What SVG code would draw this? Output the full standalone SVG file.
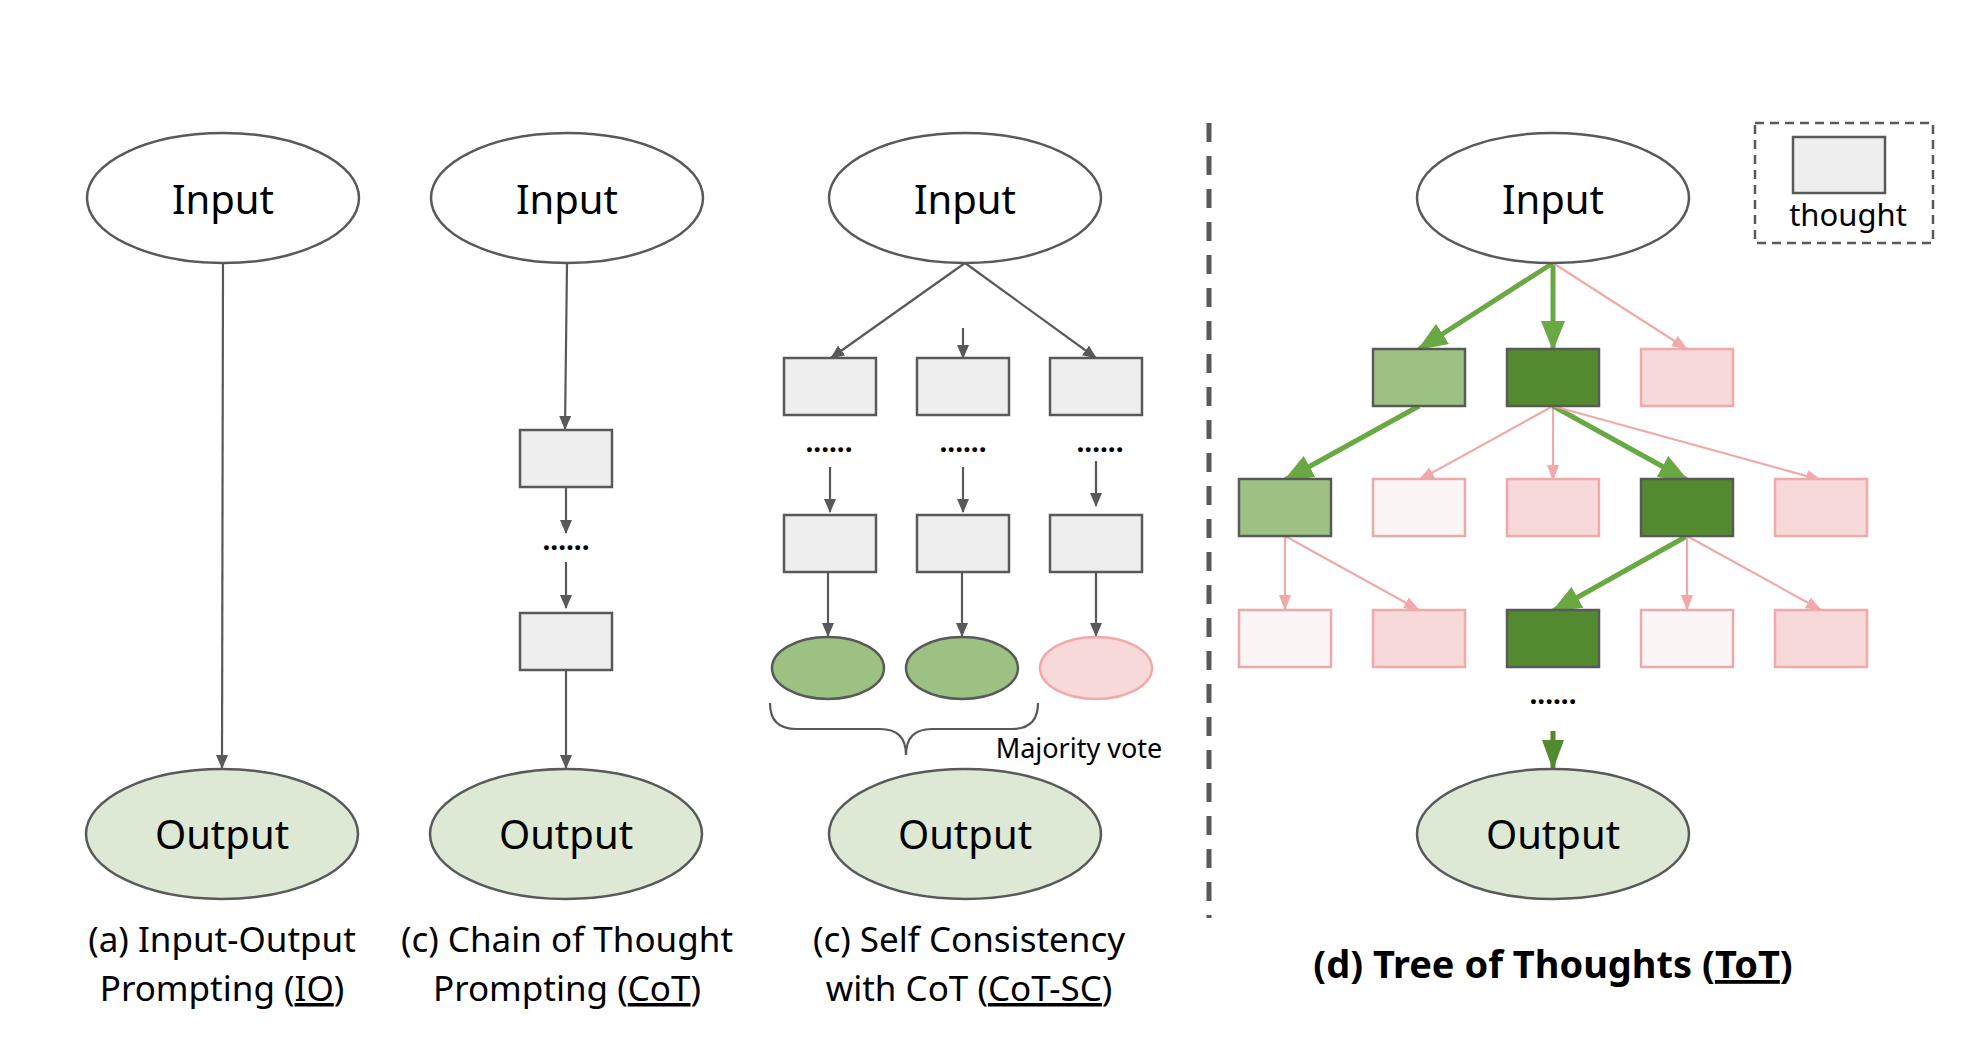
<svg xmlns="http://www.w3.org/2000/svg" width="1980" height="1052" viewBox="0 0 1980 1052">
<style>
text{font-family:"Noto Sans","Open Sans",sans-serif;fill:#000}
.ell{fill:#fff;stroke:#595959;stroke-width:2.5}
.out{fill:#dde8d5;stroke:#595959;stroke-width:2.5}
.box{fill:#eeeeee;stroke:#595959;stroke-width:2.5}
.lg{fill:#9dc183;stroke:#595959;stroke-width:2.5}
.dg{fill:#548a2f;stroke:#595959;stroke-width:2.5}
.pk{fill:#f8d9da;stroke:#f2a9a9;stroke-width:2.5}
.vp{fill:#fbf5f5;stroke:#eca9a9;stroke-width:2.5}
.gl{stroke:#595959;stroke-width:2.2;fill:none;marker-end:url(#ag)}
.gr{stroke:#6aa843;stroke-width:5;fill:none;marker-end:url(#agr)}
.pl{stroke:#f2a9a9;stroke-width:2.2;fill:none;marker-end:url(#apk)}
.nl{font-size:40px;text-anchor:middle}
.cap{font-size:35px;text-anchor:middle}
.dots{font-size:28px;text-anchor:middle;font-weight:bold}
</style>
<defs>
<marker id="ag" viewBox="0 0 14 12" refX="13" refY="6" markerWidth="14" markerHeight="12" markerUnits="userSpaceOnUse" orient="auto"><path d="M0,0 L14,6 L0,12 z" fill="#595959"/></marker>
<marker id="agr" viewBox="0 0 30 24" refX="28" refY="12" markerWidth="30" markerHeight="24" markerUnits="userSpaceOnUse" orient="auto"><path d="M0,0 L30,12 L0,24 z" fill="#6aa843"/></marker>
<marker id="apk" viewBox="0 0 16 12" refX="15" refY="6" markerWidth="16" markerHeight="12" markerUnits="userSpaceOnUse" orient="auto"><path d="M0,0 L16,6 L0,12 z" fill="#f2a9a9"/></marker>
<marker id="adg" viewBox="0 0 30 22" refX="29" refY="11" markerWidth="30" markerHeight="22" markerUnits="userSpaceOnUse" orient="auto"><path d="M0,0 L30,11 L0,22 z" fill="#548a2f"/></marker>
</defs>
<rect width="1980" height="1052" fill="#fff"/>

<g id="connectors">
<!-- IO -->
<line class="gl" x1="223" y1="263" x2="222" y2="768"/>
<!-- CoT -->
<line class="gl" x1="567" y1="263" x2="565" y2="429"/>
<line class="gl" x1="566" y1="487" x2="566" y2="533"/>
<line class="gl" x1="566" y1="562" x2="566" y2="608"/>
<line class="gl" x1="566" y1="671" x2="566" y2="768"/>
<!-- SC -->
<line class="gl" x1="965" y1="263" x2="831" y2="358"/>
<line class="gl" x1="963" y1="328" x2="963" y2="358"/>
<line class="gl" x1="965" y1="263" x2="1096" y2="358"/>
<line class="gl" x1="830" y1="467" x2="830" y2="512"/>
<line class="gl" x1="963" y1="467" x2="963" y2="512"/>
<line class="gl" x1="1096" y1="461" x2="1096" y2="506"/>
<line class="gl" x1="828" y1="573" x2="828" y2="636"/>
<line class="gl" x1="962" y1="573" x2="962" y2="636"/>
<line class="gl" x1="1096" y1="573" x2="1096" y2="636"/>
<path d="M770,703 Q770,729 796,729 L880,729 Q906,729 906,755 Q906,729 932,729 L1012,729 Q1038,729 1038,703" fill="none" stroke="#595959" stroke-width="2.2"/>
<!-- ToT -->
<line class="gr" x1="1553" y1="263" x2="1419" y2="349"/>
<line class="gr" x1="1553" y1="263" x2="1553" y2="349"/>
<line class="pl" x1="1553" y1="263" x2="1687" y2="349"/>
<line class="gr" x1="1419" y1="406" x2="1285" y2="480"/>
<line class="pl" x1="1553" y1="406" x2="1419" y2="480"/>
<line class="pl" x1="1553" y1="406" x2="1553" y2="480"/>
<line class="gr" x1="1553" y1="406" x2="1687" y2="480"/>
<line class="pl" x1="1553" y1="406" x2="1821" y2="480"/>
<line class="pl" x1="1285" y1="536" x2="1285" y2="610"/>
<line class="pl" x1="1285" y1="536" x2="1419" y2="610"/>
<line class="gr" x1="1687" y1="536" x2="1553" y2="611"/>
<line class="pl" x1="1687" y1="536" x2="1687" y2="610"/>
<line class="pl" x1="1687" y1="536" x2="1821" y2="610"/>
<line x1="1553" y1="731" x2="1553" y2="769" stroke="#548a2f" stroke-width="5" marker-end="url(#adg)"/>
</g>

<line id="divider" x1="1209" y1="123" x2="1209" y2="918" stroke="#595959" stroke-width="5" stroke-dasharray="19,14"/>

<!-- IO -->
<g id="io-input"><ellipse class="ell" cx="223" cy="198" rx="136" ry="65"/><text class="nl" x="223" y="214">Input</text></g>
<g id="io-output"><ellipse class="out" cx="222" cy="834" rx="136" ry="65"/><text class="nl" x="222" y="849">Output</text></g>
<g id="io-caption"><text class="cap" x="222" y="952">(a) Input-Output</text><text class="cap" x="222" y="1001">Prompting (<tspan text-decoration="underline">IO</tspan>)</text></g>

<!-- CoT -->
<g id="cot-input"><ellipse class="ell" cx="567" cy="198" rx="136" ry="65"/><text class="nl" x="567" y="214">Input</text></g>
<g id="cot-t1"><rect class="box" x="520" y="430" width="92" height="57"/></g>
<g id="cot-dots"><text class="dots" x="566" y="550">......</text></g>
<g id="cot-t2"><rect class="box" x="520" y="613" width="92" height="57"/></g>
<g id="cot-output"><ellipse class="out" cx="566" cy="834" rx="136" ry="65"/><text class="nl" x="566" y="849">Output</text></g>
<g id="cot-caption"><text class="cap" x="567" y="952">(c) Chain of Thought</text><text class="cap" x="567" y="1001">Prompting (<tspan text-decoration="underline">CoT</tspan>)</text></g>

<!-- SC -->
<g id="sc-input"><ellipse class="ell" cx="965" cy="198" rx="136" ry="65"/><text class="nl" x="965" y="214">Input</text></g>
<g id="sc-a1"><rect class="box" x="784" y="358" width="92" height="57"/></g>
<g id="sc-b1"><rect class="box" x="917" y="358" width="92" height="57"/></g>
<g id="sc-c1"><rect class="box" x="1050" y="358" width="92" height="57"/></g>
<g id="sc-dots"><text class="dots" x="829" y="452">......</text><text class="dots" x="963" y="452">......</text><text class="dots" x="1100" y="452">......</text></g>
<g id="sc-a2"><rect class="box" x="784" y="515" width="92" height="57"/></g>
<g id="sc-b2"><rect class="box" x="917" y="515" width="92" height="57"/></g>
<g id="sc-c2"><rect class="box" x="1050" y="515" width="92" height="57"/></g>
<g id="sc-ra"><ellipse class="lg" cx="828" cy="668" rx="56" ry="31"/></g>
<g id="sc-rb"><ellipse class="lg" cx="962" cy="668" rx="56" ry="31"/></g>
<g id="sc-rc"><ellipse class="pk" cx="1096" cy="668" rx="56" ry="31"/></g>
<g id="sc-vote"><text x="1079" y="758" font-size="27" text-anchor="middle">Majority vote</text></g>
<g id="sc-output"><ellipse class="out" cx="965" cy="834" rx="136" ry="65"/><text class="nl" x="965" y="849">Output</text></g>
<g id="sc-caption"><text class="cap" x="969" y="952">(c) Self Consistency</text><text class="cap" x="969" y="1001">with CoT (<tspan text-decoration="underline">CoT-SC</tspan>)</text></g>

<!-- ToT -->
<g id="tot-input"><ellipse class="ell" cx="1553" cy="198" rx="136" ry="65"/><text class="nl" x="1553" y="214">Input</text></g>
<g id="tot-r1c2"><rect class="lg" x="1373" y="349" width="92" height="57"/></g>
<g id="tot-r1c3"><rect class="dg" x="1507" y="349" width="92" height="57"/></g>
<g id="tot-r1c4"><rect class="pk" x="1641" y="349" width="92" height="57"/></g>
<g id="tot-r2c1"><rect class="lg" x="1239" y="479" width="92" height="57"/></g>
<g id="tot-r2c2"><rect class="vp" x="1373" y="479" width="92" height="57"/></g>
<g id="tot-r2c3"><rect class="pk" x="1507" y="479" width="92" height="57"/></g>
<g id="tot-r2c4"><rect class="dg" x="1641" y="479" width="92" height="57"/></g>
<g id="tot-r2c5"><rect class="pk" x="1775" y="479" width="92" height="57"/></g>
<g id="tot-r3c1"><rect class="vp" x="1239" y="610" width="92" height="57"/></g>
<g id="tot-r3c2"><rect class="pk" x="1373" y="610" width="92" height="57"/></g>
<g id="tot-r3c3"><rect class="dg" x="1507" y="610" width="92" height="57"/></g>
<g id="tot-r3c4"><rect class="vp" x="1641" y="610" width="92" height="57"/></g>
<g id="tot-r3c5"><rect class="pk" x="1775" y="610" width="92" height="57"/></g>
<g id="tot-dots"><text class="dots" x="1553" y="704">......</text></g>
<g id="tot-output"><ellipse class="out" cx="1553" cy="834" rx="136" ry="65"/><text class="nl" x="1553" y="849">Output</text></g>
<g id="tot-caption"><text x="1553" y="978" font-size="38" font-weight="bold" text-anchor="middle">(d) Tree of Thoughts (<tspan text-decoration="underline">ToT</tspan>)</text></g>

<!-- Legend -->
<g id="legend">
<rect x="1755" y="123" width="178" height="120" fill="none" stroke="#595959" stroke-width="2.5" stroke-dasharray="9,6"/>
<rect class="box" x="1793" y="137" width="92" height="56"/>
<text x="1848" y="226" font-size="31" text-anchor="middle">thought</text>
</g>
</svg>
